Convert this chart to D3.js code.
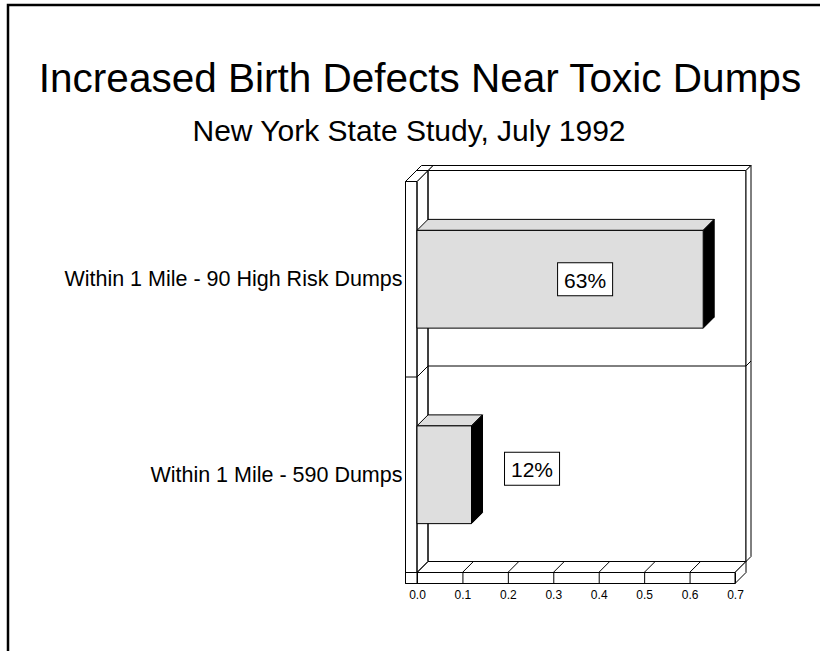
<!DOCTYPE html>
<html>
<head>
<meta charset="utf-8">
<script src="https://cdn.jsdelivr.net/npm/d3@7"></script>
<style>
  body { margin: 0; background: #fff; }
  svg { display: block; font-family: "Liberation Sans", Arial, Helvetica, sans-serif; }
</style>
</head>
<body>
<svg width="820" height="651"></svg>
<script>
// chart data
var categories = ["Within 1 Mile - 90 High Risk Dumps", "Within 1 Mile - 590 Dumps"];
var values = [0.63, 0.12];
var valueLabels = ["63%", "12%"];
var tickValues = [0, 0.1, 0.2, 0.3, 0.4, 0.5, 0.6, 0.7];

var width = 820, height = 651;
var depth = 11;     // 3d depth offset
var slab = 5;       // back wall thickness
var wall = 11.5;    // left wall thickness
var floorH = 11;

var svg = d3.select("svg");

// page frame (runs off the right and bottom edges)
svg.append("rect")
    .attr("x", 8).attr("y", 5)
    .attr("width", 1000).attr("height", 900)
    .attr("fill", "none").attr("stroke", "#000").attr("stroke-width", 2.5);

// titles
svg.append("text")
    .attr("x", 420).attr("y", 92)
    .attr("text-anchor", "middle")
    .style("font-size", "40.5px")
    .text("Increased Birth Defects Near Toxic Dumps");
svg.append("text")
    .attr("x", 409).attr("y", 141)
    .attr("text-anchor", "middle")
    .style("font-size", "30px")
    .text("New York State Study, July 1992");

var xScale = d3.scaleLinear()
    .domain([0, 0.7])
    .range([417, 735]);

var yScale = d3.scaleBand()
    .domain(categories)
    .range([181.5, 572.5])
    .paddingInner(0.5)
    .paddingOuter(0.25);

var x0 = xScale.range()[0], x1 = xScale.range()[1];
var yTop = yScale.range()[0], yBot = yScale.range()[1];

var g = svg.append("g")
    .attr("stroke", "#000")
    .attr("stroke-width", 1)
    .attr("stroke-linejoin", "round");

function poly(pts, fill) {
    return g.append("polygon")
        .attr("points", pts.map(p => p.join(",")).join(" "))
        .attr("fill", fill);
}

// back wall
poly([[x0 + depth, yTop - depth], [x1 + depth, yTop - depth], [x1 + depth, yBot - depth], [x0 + depth, yBot - depth]], "#fff");
poly([[x0 + depth, yTop - depth], [x1 + depth, yTop - depth], [x1 + depth + slab, yTop - depth - slab], [x0 + depth + slab, yTop - depth - slab]], "#fff");
poly([[x1 + depth, yTop - depth], [x1 + depth + slab, yTop - depth - slab], [x1 + depth + slab, yBot - depth - slab], [x1 + depth, yBot - depth]], "#fff");

// divider between categories
var step = yScale.step();
d3.range(1, categories.length).forEach(function(i) {
    var yb = yTop + i * step;
    g.append("polyline")
        .attr("fill", "none")
        .attr("points", [[x0, yb], [x0 + depth, yb - depth], [x1 + depth, yb - depth], [x1 + depth + slab, yb - depth - slab]].map(p => p.join(",")).join(" "));
});

// floor
poly([[x0, yBot], [x1, yBot], [x1 + depth, yBot - depth], [x0 + depth, yBot - depth]], "#fff");
poly([[x1, yBot], [x1 + depth, yBot - depth], [x1 + depth, yBot - depth + floorH], [x1, yBot + floorH]], "#fff");
g.append("rect")
    .attr("x", x0 - wall).attr("y", yBot)
    .attr("width", x1 - x0 + wall).attr("height", floorH)
    .attr("fill", "#fff");
g.selectAll(".floorTick")
    .data(tickValues.slice(1, -1))
    .enter()
    .append("line")
    .attr("x1", d => xScale(d)).attr("y1", yBot)
    .attr("x2", d => xScale(d) + depth).attr("y2", yBot - depth);

var xAxis = d3.axisBottom(xScale)
    .tickValues(tickValues)
    .tickFormat(d3.format(".1f"))
    .tickSize(floorH)
    .tickPadding(7);
var axisG = svg.append("g")
    .attr("transform", "translate(0," + yBot + ")")
    .call(xAxis);
axisG.attr("font-family", null);
axisG.select(".domain").remove();
axisG.selectAll("text").attr("fill", "#000").style("font-size", "12px");

// left wall
poly([[x0, yTop], [x0 + depth, yTop - depth], [x0 + depth, yBot - depth], [x0, yBot]], "none");
poly([[x0 - wall, yTop], [x0, yTop], [x0 + depth + slab, yTop - depth - slab], [x0 - wall + depth + slab, yTop - depth - slab]], "#fff");
g.append("line")
    .attr("x1", x0 - wall + depth).attr("y1", yTop - depth)
    .attr("x2", x0 + depth).attr("y2", yTop - depth);
g.append("rect")
    .attr("x", x0 - wall).attr("y", yTop)
    .attr("width", wall).attr("height", yBot - yTop + floorH)
    .attr("fill", "none");
d3.range(1, categories.length).forEach(function(i) {
    var yb = yTop + i * step;
    g.append("line")
        .attr("x1", x0 - wall).attr("x2", x0)
        .attr("y1", yb).attr("y2", yb);
});

// bars
var bw = yScale.bandwidth();
categories.forEach(function(c, i) {
    var v = values[i];
    var bx = xScale(v), by = yScale(c);
    poly([[x0, by], [bx, by], [bx + depth, by - depth], [x0 + depth, by - depth]], "#dedede");
    poly([[bx, by], [bx + depth, by - depth], [bx + depth, by + bw - depth], [bx, by + bw]], "#000");
    g.append("rect")
        .attr("x", x0).attr("y", by)
        .attr("width", bx - x0).attr("height", bw)
        .attr("fill", "#dedede");
});

// category labels
var yAxis = d3.axisLeft(yScale).tickSize(0).tickPadding(3);
var yAxisG = svg.append("g")
    .attr("transform", "translate(" + (x0 - wall) + ",0)")
    .call(yAxis);
yAxisG.select(".domain").remove();
yAxisG.attr("font-family", null).attr("font-size", 21.5);
yAxisG.selectAll("text").attr("fill", "#000");

// value labels
categories.forEach(function(c, i) {
    var v = values[i];
    var inside = xScale(v) - x0 > 120;
    var cy = yScale(c) + bw / 2 - (inside ? 0 : 6);
    var lg = svg.append("g");
    var t = lg.append("text")
        .attr("text-anchor", "middle")
        .attr("dy", "0.35em")
        .style("font-size", "21px")
        .text(valueLabels[i]);
    var tw = t.node().getComputedTextLength();
    var boxW = tw + 13, boxH = 33;
    var cx = inside ? xScale(v / 2) + 25 : xScale(v) + depth + 22 + boxW / 2;
    lg.insert("rect", "text")
        .attr("x", cx - boxW / 2).attr("y", cy - boxH / 2)
        .attr("width", boxW).attr("height", boxH)
        .attr("fill", "#fff").attr("stroke", "#000");
    t.attr("x", cx).attr("y", cy + 1);
});
</script>
</body>
</html>
